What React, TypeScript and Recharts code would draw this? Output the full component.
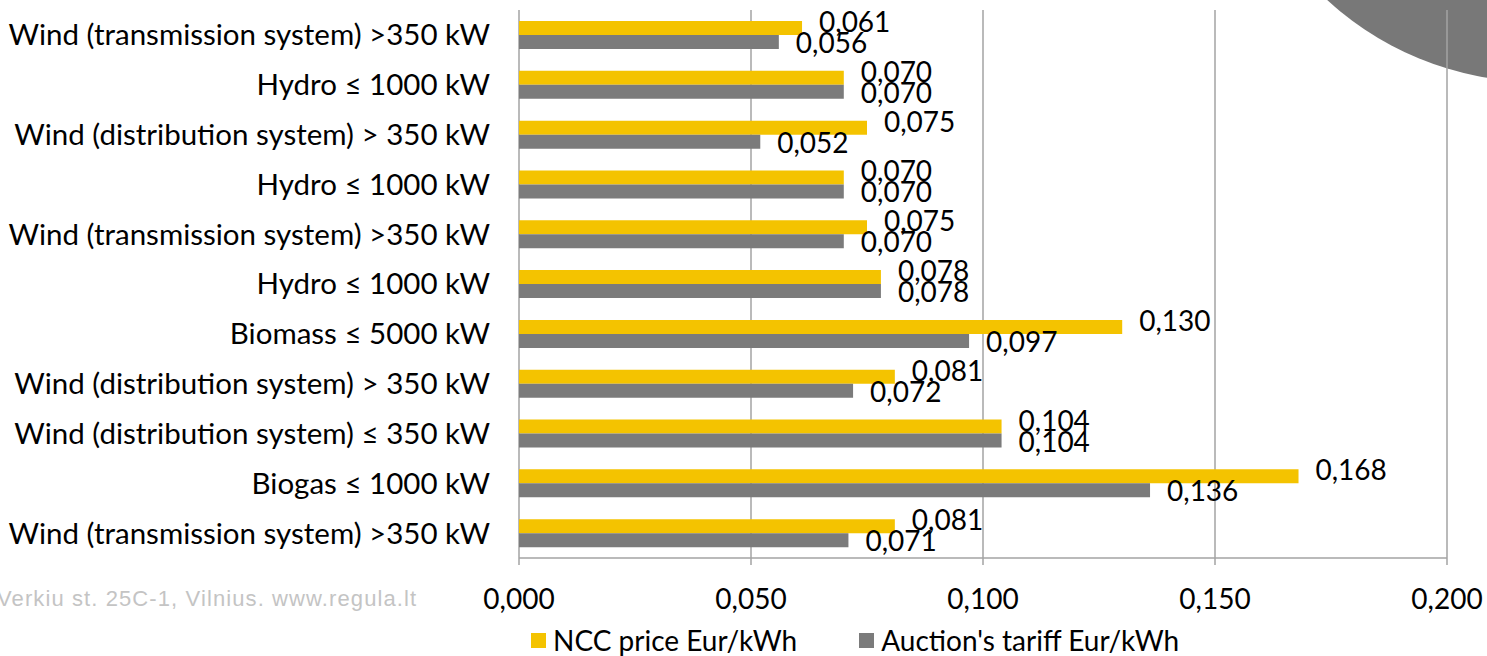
import {
  Bar,
  BarChart,
  CartesianGrid,
  LabelList,
  Legend,
  XAxis,
  YAxis,
} from "recharts";

const categories = [
  "Wind (transmission system) >350 kW",
  "Hydro ≤ 1000 kW",
  "Wind (distribution system)  > 350 kW",
  "Hydro ≤ 1000 kW",
  "Wind (transmission system) >350 kW",
  "Hydro ≤ 1000 kW",
  "Biomass ≤ 5000 kW",
  "Wind (distribution system)  > 350 kW",
  "Wind (distribution system)  ≤ 350 kW",
  "Biogas ≤ 1000 kW",
  "Wind (transmission system) >350 kW",
];

const nccPrice = [0.061, 0.07, 0.075, 0.07, 0.075, 0.078, 0.13, 0.081, 0.104, 0.168, 0.081];
const auctionTariff = [0.056, 0.07, 0.052, 0.07, 0.07, 0.078, 0.097, 0.072, 0.104, 0.136, 0.071];

const xTicks = [0, 0.05, 0.1, 0.15, 0.2];
const rowBounds = categories.map((_, i) => i).concat(categories.length);

const NCC_LABEL = "NCC price Eur/kWh";
const AUCTION_LABEL = "Auction's tariff Eur/kWh";
const FOOTER = "Verkiu st. 25C-1, Vilnius. www.regula.lt";

const data = categories.map((name, i) => ({
  key: "r" + i,
  name,
  ncc: nccPrice[i],
  auction: auctionTariff[i],
}));

const FONT = "Lato, 'Open Sans', sans-serif";
const YELLOW = "#F4C300";
const GREY = "#7B7B7B";
const AXIS = "#A3A3A3";

const fmt = (v: number) => v.toFixed(3).replace(".", ",");

function valueLabel(dy: number) {
  return (props: any) => {
    const { x, y, width, height, value } = props;
    return (
      <text
        x={Number(x) + Number(width) + 17}
        y={Number(y) + Number(height) / 2 + dy}
        dominantBaseline="central"
        fontFamily={FONT}
        fontSize={28}
        fill="#000"
      >
        {fmt(Number(value))}
      </text>
    );
  };
}

function LegendBox() {
  const item = (color: string, label: string) => (
    <div style={{ display: "flex", alignItems: "center", gap: 7 }}>
      <span style={{ width: 15, height: 15, background: color, display: "inline-block" }} />
      <span>{label}</span>
    </div>
  );
  return (
    <div
      style={{
        display: "flex",
        gap: 62,
        fontFamily: FONT,
        fontSize: 28,
        color: "#000",
        height: 30,
        alignItems: "center",
      }}
    >
      {item(YELLOW, NCC_LABEL)}
      {item(GREY, AUCTION_LABEL)}
    </div>
  );
}

export default function App() {
  return (
    <div
      style={{
        position: "absolute",
        left: 0,
        top: 0,
        width: 1487,
        height: 656,
        overflow: "hidden",
        background: "#fff",
      }}
    >
      <div
        style={{
          position: "absolute",
          left: 1226,
          top: -542,
          width: 624,
          height: 624,
          borderRadius: "50%",
          background: "#787878",
        }}
      />
      <div
        style={{
          position: "absolute",
          left: -3,
          top: 588,
          fontFamily: "Arial, 'Liberation Sans', sans-serif",
          fontSize: 22,
          letterSpacing: 1.1,
          lineHeight: 1,
          color: "#C4C4C4",
          whiteSpace: "nowrap",
        }}
      >
        {FOOTER}
      </div>
      <div style={{ position: "absolute", left: 0, top: 0 }}>
        <BarChart
          width={1487}
          height={656}
          data={data}
          layout="vertical"
          margin={{ top: 10, right: 40, bottom: 1, left: 0 }}
          barGap={0}
          barSize={14}
        >
          <CartesianGrid horizontal={false} stroke={AXIS} strokeWidth={1.5} />
          <XAxis
            type="number"
            domain={[0, 0.2]}
            ticks={xTicks}
            tickFormatter={fmt}
            height={67}
            tickSize={7}
            tickMargin={24}
            axisLine={{ stroke: AXIS, strokeWidth: 1.5 }}
            tickLine={{ stroke: AXIS, strokeWidth: 1.5 }}
            tick={{ fill: "#000", fontSize: 28, fontFamily: FONT }}
          />
          <YAxis
            yAxisId="rows"
            type="number"
            domain={[0, categories.length]}
            ticks={rowBounds}
            width={0}
            tick={false}
            tickSize={7}
            axisLine={{ stroke: AXIS, strokeWidth: 1.5 }}
            tickLine={{ stroke: AXIS, strokeWidth: 1.5 }}
          />
          <YAxis
            type="category"
            dataKey="key"
            width={519}
            axisLine={false}
            tickLine={false}
            tickSize={7}
            tickMargin={22}
            tickFormatter={(_: string, i: number) => categories[i]}
            tick={{ fill: "#000", fontSize: 29.5, fontFamily: FONT }}
            interval={0}
          />
          <Legend
            verticalAlign="bottom"
            content={() => <LegendBox />}
            wrapperStyle={{ left: 531, width: 760, height: 30 }}
          />
          <Bar dataKey="ncc" name={NCC_LABEL} fill={YELLOW} isAnimationActive={false}>
            <LabelList dataKey="ncc" content={valueLabel(-7)} />
          </Bar>
          <Bar dataKey="auction" name={AUCTION_LABEL} fill={GREY} isAnimationActive={false}>
            <LabelList dataKey="auction" content={valueLabel(0)} />
          </Bar>
        </BarChart>
      </div>
    </div>
  );
}
